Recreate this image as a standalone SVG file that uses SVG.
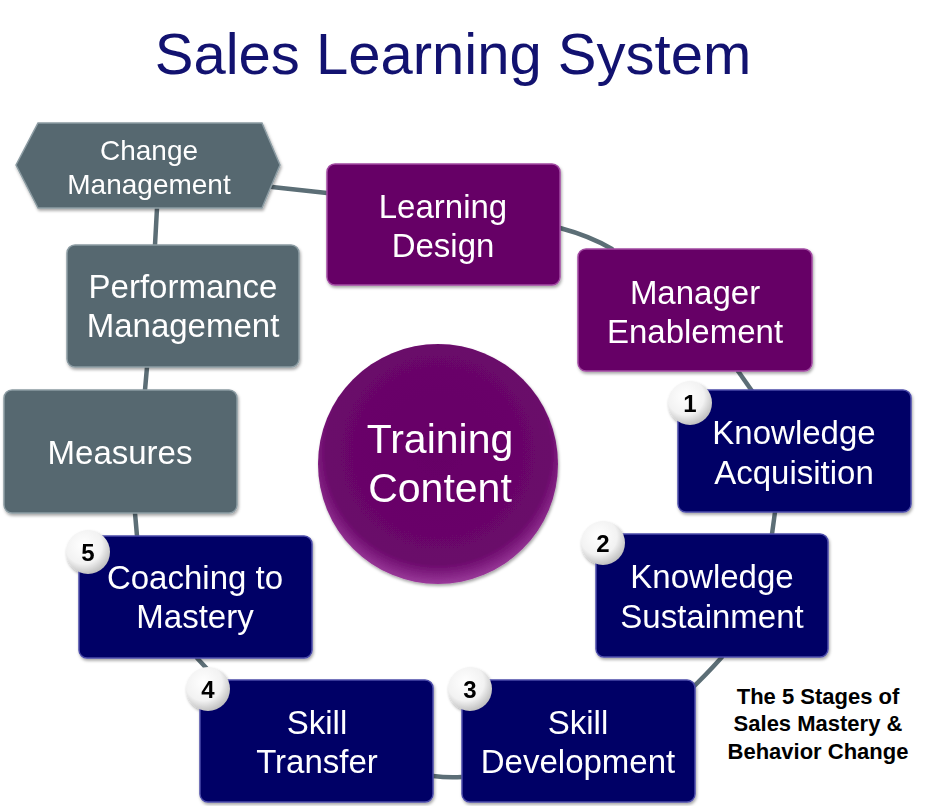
<svg xmlns="http://www.w3.org/2000/svg" width="939" height="806" viewBox="0 0 939 806">
<defs>
<style>
.t{fill:#fff;text-anchor:middle;font-size:33px}
.gray{fill:#566870;stroke:#8c9ca3;stroke-width:1.5}
.pur{fill:#660066;stroke:#a24aa2;stroke-width:1.5}
.navy{fill:#000066;stroke:#4c4caa;stroke-width:1.5}
.con{fill:none;stroke:#5c6e76;stroke-width:4.5;stroke-linecap:round}
.num{font-weight:bold;font-size:24px;fill:#000;text-anchor:middle}
.cap{font-weight:bold;font-size:22px;fill:#000;text-anchor:middle}
</style>
<radialGradient id="badge" cx="0.4" cy="0.35" r="0.7">
<stop offset="0" stop-color="#ffffff"/>
<stop offset="0.6" stop-color="#f2f2f2"/>
<stop offset="1" stop-color="#b8b8b8"/>
</radialGradient>
<radialGradient id="ball" cx="0.5" cy="0.45" r="0.55">
<stop offset="0" stop-color="#660066"/>
<stop offset="0.85" stop-color="#6a086a"/>
<stop offset="1" stop-color="#9a3a9a"/>
</radialGradient>
<filter id="sh" x="-10%" y="-10%" width="130%" height="130%">
<feDropShadow dx="1" dy="2" stdDeviation="1.5" flood-color="#000" flood-opacity="0.35"/>
</filter>
</defs>

<g font-family="Liberation Sans, Arial, sans-serif">
<text x="453" y="74" font-size="58" fill="#121270" text-anchor="middle">Sales Learning System</text>

<g id="connectors">
<path class="con" d="M272,187 L327,193"/>
<path class="con" d="M157,208 L155,245"/>
<path class="con" d="M560,228 Q590,236 612,249"/>
<path class="con" d="M738,371 L752,391"/>
<path class="con" d="M775,512 L772,534"/>
<path class="con" d="M722,657 Q705,676 690,690"/>
<path class="con" d="M433,776 Q448,778 462,777"/>
<path class="con" d="M197,658 L210,672"/>
<path class="con" d="M137,536 L135,513"/>
<path class="con" d="M147,367 L145,390"/>
</g>

<g id="change-management" filter="url(#sh)">
<polygon class="gray" points="16,165 38,123 262,123 280,165 262,208 38,208"/>
<text class="t" style="font-size:28px" x="149" y="160">Change</text>
<text class="t" style="font-size:28px" x="149" y="194">Management</text>
</g>

<g id="learning-design" filter="url(#sh)">
<rect class="pur" x="327" y="164" width="233" height="121" rx="8"/>
<text class="t" x="443" y="218">Learning</text>
<text class="t" x="443" y="257">Design</text>
</g>

<g id="manager-enablement" filter="url(#sh)">
<rect class="pur" x="578" y="249" width="234" height="122" rx="8"/>
<text class="t" x="695" y="304">Manager</text>
<text class="t" x="695" y="343">Enablement</text>
</g>

<g id="performance-management" filter="url(#sh)">
<rect class="gray" x="67" y="245" width="232" height="122" rx="8"/>
<text class="t" x="183" y="298">Performance</text>
<text class="t" x="183" y="337">Management</text>
</g>

<g id="measures" filter="url(#sh)">
<rect class="gray" x="4" y="390" width="233" height="123" rx="8"/>
<text class="t" x="120" y="464">Measures</text>
</g>

<g id="training-content" filter="url(#sh)">
<circle cx="438" cy="464" r="120" fill="url(#ball)"/>
<text class="t" style="font-size:41px" x="440" y="453">Training</text>
<text class="t" style="font-size:41px" x="440" y="502">Content</text>
</g>

<g id="knowledge-acquisition" filter="url(#sh)">
<rect class="navy" x="678" y="390" width="233" height="122" rx="8"/>
<text class="t" x="794" y="444">Knowledge</text>
<text class="t" x="794" y="484">Acquisition</text>
<circle cx="690" cy="403" r="22" fill="url(#badge)"/>
<text class="num" x="690" y="412">1</text>
</g>

<g id="knowledge-sustainment" filter="url(#sh)">
<rect class="navy" x="596" y="534" width="232" height="123" rx="8"/>
<text class="t" x="712" y="588">Knowledge</text>
<text class="t" x="712" y="628">Sustainment</text>
<circle cx="603" cy="543" r="22" fill="url(#badge)"/>
<text class="num" x="603" y="552">2</text>
</g>

<g id="skill-development" filter="url(#sh)">
<rect class="navy" x="462" y="680" width="233" height="122" rx="8"/>
<text class="t" x="578" y="734">Skill</text>
<text class="t" x="578" y="773">Development</text>
<circle cx="470" cy="689" r="22" fill="url(#badge)"/>
<text class="num" x="470" y="698">3</text>
</g>

<g id="skill-transfer" filter="url(#sh)">
<rect class="navy" x="200" y="680" width="233" height="122" rx="8"/>
<text class="t" x="317" y="734">Skill</text>
<text class="t" x="317" y="773">Transfer</text>
<circle cx="208" cy="689" r="22" fill="url(#badge)"/>
<text class="num" x="208" y="698">4</text>
</g>

<g id="coaching-to-mastery" filter="url(#sh)">
<rect class="navy" x="79" y="536" width="233" height="122" rx="8"/>
<text class="t" x="195" y="589">Coaching to</text>
<text class="t" x="195" y="628">Mastery</text>
<circle cx="88" cy="552" r="22" fill="url(#badge)"/>
<text class="num" x="88" y="561">5</text>
</g>

<g id="caption">
<text class="cap" x="818" y="704">The 5 Stages of</text>
<text class="cap" x="818" y="731">Sales Mastery &amp;</text>
<text class="cap" x="818" y="759">Behavior Change</text>
</g>
</g>
</svg>
